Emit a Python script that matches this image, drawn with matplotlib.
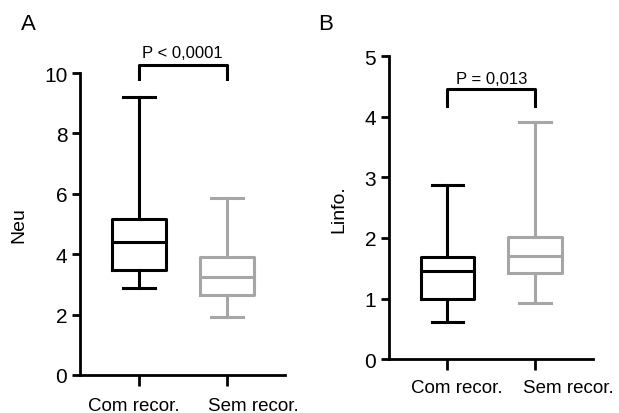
import matplotlib.pyplot as plt
from matplotlib.transforms import ScaledTranslation

plt.rcParams['font.family'] = ['Liberation Sans', 'DejaVu Sans']

groups = ['Com recor.', 'Sem recor.']
colors = ['black', '#a6a6a6']

# Neu: whislo, q1, med, q3, whishi
neu_low = [2.87, 1.91]
neu_q1 = [3.49, 2.65]
neu_med = [4.39, 3.23]
neu_q3 = [5.17, 3.92]
neu_high = [9.2, 5.85]

# Linfo.
lin_low = [0.62, 0.92]
lin_q1 = [1.00, 1.42]
lin_med = [1.45, 1.71]
lin_q3 = [1.68, 2.02]
lin_high = [2.88, 3.91]


def draw(ax, low, q1, med, q3, high, ylim, yticks, ylabel, ptext, br, shifts, xpad):
    for i in range(2):
        st = [dict(whislo=low[i], q1=q1[i], med=med[i], q3=q3[i], whishi=high[i], fliers=[])]
        props = dict(color=colors[i], linewidth=2.2)
        ax.bxp(st, positions=[i + 1], widths=0.61, capwidths=0.36, showfliers=False,
               boxprops=props, whiskerprops=props, capprops=props,
               medianprops=props, manage_ticks=False)
    ax.set_xlim(0.33, 2.66)
    ax.set_ylim(*ylim)
    ax.set_yticks(yticks)
    ax.set_xticks([1, 2])
    ax.set_xticklabels(groups)
    ax.set_ylabel(ylabel, fontsize=14, labelpad=12)
    for s in ['top', 'right']:
        ax.spines[s].set_visible(False)
    for s in ['left', 'bottom']:
        ax.spines[s].set_linewidth(2)
    ax.tick_params(axis='y', width=2, length=6, labelsize=15, pad=3)
    ax.tick_params(axis='x', width=2, length=8, labelsize=13.5, pad=xpad)
    # labels in the original sit a bit right of their ticks
    for lab, dx in zip(ax.get_xticklabels(), shifts):
        lab.set_transform(lab.get_transform() + ScaledTranslation(dx / 100, 0, fig.dpi_scale_trans))
    lo, hi, ty = br
    ax.plot([1, 1, 2, 2], [lo, hi, hi, lo], color='black', lw=2.2, clip_on=False)
    ax.text(1.5, ty, ptext, ha='center', va='center', fontsize=12)


fig = plt.figure(figsize=(6.19, 4.14), dpi=100)
axA = fig.add_axes([0.129, 0.092, 0.331, 0.729])
axB = fig.add_axes([0.628, 0.130, 0.330, 0.732])

draw(axA, neu_low, neu_q1, neu_med, neu_q3, neu_high, (0, 10), [0, 2, 4, 6, 8, 10],
     'Neu', 'P < 0,0001', (9.8, 10.27, 10.68), (-5, 27), 8)
draw(axB, lin_low, lin_q1, lin_med, lin_q3, lin_high, (0, 5), [0, 1, 2, 3, 4, 5],
     'Linfo.', 'P = 0,013', (4.18, 4.45, 4.63), (9, 33), 6)

fig.text(21 / 619, 1 - 14 / 414, 'A', fontsize=16, ha='left', va='top')
fig.text(318 / 619, 1 - 14 / 414, 'B', fontsize=16, ha='left', va='top')

fig.savefig('out.png', dpi=100)
